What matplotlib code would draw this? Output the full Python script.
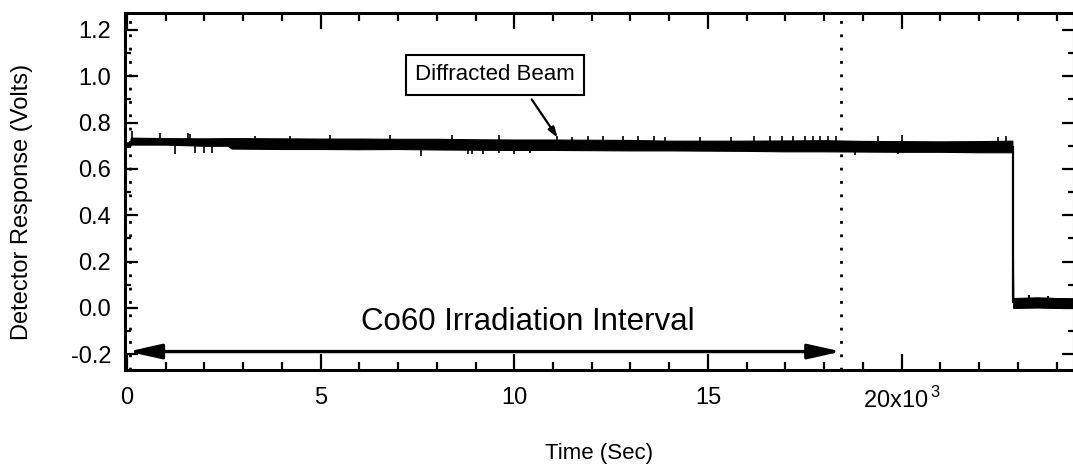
import matplotlib.pyplot as plt
from matplotlib.ticker import MultipleLocator

plt.rcParams['font.family'] = ['Liberation Sans', 'DejaVu Sans']
plt.rcParams['mathtext.fontset'] = 'custom'
plt.rcParams['mathtext.rm'] = 'Liberation Sans'

# detector trace (time in 10^3 s, response in volts)
# band = lower / upper edge of the dense noisy trace
t_band = [0.0, 0.08, 0.1, 1.0, 2.0, 2.6, 2.7, 4.0, 5.0, 6.0, 7.0, 8.0, 9.0, 10.0,
          11.0, 12.0, 13.0, 14.0, 15.0, 16.0, 17.0, 18.0, 19.0, 20.0, 21.0, 22.0,
          22.86, 22.88, 23.5, 24.0, 24.5]
band_hi = [0.715, 0.715, 0.735, 0.733, 0.732, 0.733, 0.733, 0.732, 0.731, 0.731,
           0.730, 0.730, 0.728, 0.727, 0.727, 0.726, 0.725, 0.722, 0.722, 0.722,
           0.723, 0.724, 0.721, 0.720, 0.719, 0.720, 0.722, 0.043, 0.046, 0.043, 0.042]
band_lo = [0.695, 0.695, 0.705, 0.705, 0.700, 0.700, 0.688, 0.686, 0.686, 0.685,
           0.686, 0.684, 0.683, 0.682, 0.682, 0.681, 0.680, 0.680, 0.679, 0.678,
           0.676, 0.676, 0.675, 0.674, 0.674, 0.672, 0.672, 0.000, 0.002, 0.000, 0.000]

# isolated spikes sticking out of the band
spike_t = [0.12, 0.85, 1.57, 1.62, 3.3, 4.2, 5.24, 6.8, 8.4, 9.6, 11.1, 11.5, 11.9,
           12.3, 12.8, 13.2, 13.6, 13.9, 14.8, 15.6, 16.2, 16.6, 16.9, 17.2, 17.5,
           17.7, 17.9, 18.1, 18.3, 19.4, 20.0, 22.5, 22.7,
           1.24, 1.75, 2.0, 2.2, 7.6, 8.8, 8.9, 9.2, 9.6, 10.0, 10.4, 18.8, 19.9]
spike_v = [0.762, 0.757, 0.757, 0.750, 0.742, 0.740, 0.745, 0.745, 0.745, 0.748,
           0.742, 0.738, 0.740, 0.741, 0.740, 0.742, 0.740, 0.738, 0.738, 0.736,
           0.740, 0.742, 0.740, 0.743, 0.742, 0.744, 0.742, 0.742, 0.744, 0.742,
           0.748, 0.738, 0.740,
           0.665, 0.670, 0.670, 0.668, 0.656, 0.665, 0.665, 0.666, 0.667, 0.665,
           0.667, 0.662, 0.664]
low_spike_t = [23.3, 23.77]
low_spike_v = [0.056, 0.052]

t_drop = 22.87
irr_start = 0.08
irr_end = 18.44

x_ticks = [0, 5, 10, 15, 20]
x_labels = ['0', '5', '10', '15', r'20x10$^{\,\mathregular{3}}$']
y_ticks = [-0.2, 0.0, 0.2, 0.4, 0.6, 0.8, 1.0, 1.2]

fig = plt.figure(figsize=(10.73, 4.72), dpi=100)
ax = fig.add_axes([0.1165, 0.2161, 0.8844, 0.7564])

ax.fill_between(t_band, band_lo, band_hi, color='black', lw=0.8)
ax.vlines(spike_t, 0.705, spike_v, color='black', lw=1.2)
ax.vlines(low_spike_t, 0.02, low_spike_v, color='black', lw=1.5)
ax.vlines(t_drop, 0.02, 0.70, color='black', lw=1.6)

# irradiation markers
for tx in (irr_start, irr_end):
    ax.axvline(tx, color='black', lw=2, ls=(0, (1, 3.8)))
ax.annotate('', xy=(irr_end, -0.188), xytext=(irr_start - 0.05, -0.188),
            arrowprops=dict(arrowstyle='<|-|>,head_length=2,head_width=0.45',
                            mutation_scale=10, lw=2.4, color='black',
                            shrinkA=0, shrinkB=0))
ax.text(10.35, -0.06, 'Co60 Irradiation Interval', ha='center', va='center', fontsize=22.5)

ax.text(9.5, 1.006, 'Diffracted Beam', ha='center', va='center', fontsize=16,
        bbox=dict(boxstyle='square,pad=0.42', fc='white', ec='black', lw=1.5))
ax.annotate('', xy=(11.12, 0.735), xytext=(10.45, 0.9),
            arrowprops=dict(arrowstyle='-|>,head_length=0.6,head_width=0.2',
                            mutation_scale=10, lw=1.6, color='black',
                            shrinkA=0, shrinkB=0))

ax.set_xlim(-0.05, 24.45)
ax.set_ylim(-0.2676, 1.273)
ax.set_xticks(x_ticks)
ax.set_xticklabels(x_labels)
ax.set_yticks(y_ticks)
ax.set_yticklabels([f'{v:.1f}' for v in y_ticks])
ax.xaxis.set_minor_locator(MultipleLocator(1))
ax.yaxis.set_minor_locator(MultipleLocator(0.1))

ax.tick_params(axis='both', which='both', direction='in', top=True, right=True,
               width=1.6, labelsize=17)
ax.tick_params(axis='x', which='major', length=11.5, pad=12)
ax.tick_params(axis='x', which='minor', length=5.5)
ax.tick_params(axis='y', which='major', length=9, pad=10)
ax.tick_params(axis='y', which='minor', length=4)
for s in ax.spines.values():
    s.set_linewidth(2.2)

ax.set_xlabel('Time (Sec)', fontsize=16)
ax.xaxis.set_label_coords(0.5, -0.205)
ax.set_ylabel('Detector Response (Volts)', fontsize=17)
ax.yaxis.set_label_coords(-0.097, 0.47)

fig.savefig('out.png', dpi=100)
